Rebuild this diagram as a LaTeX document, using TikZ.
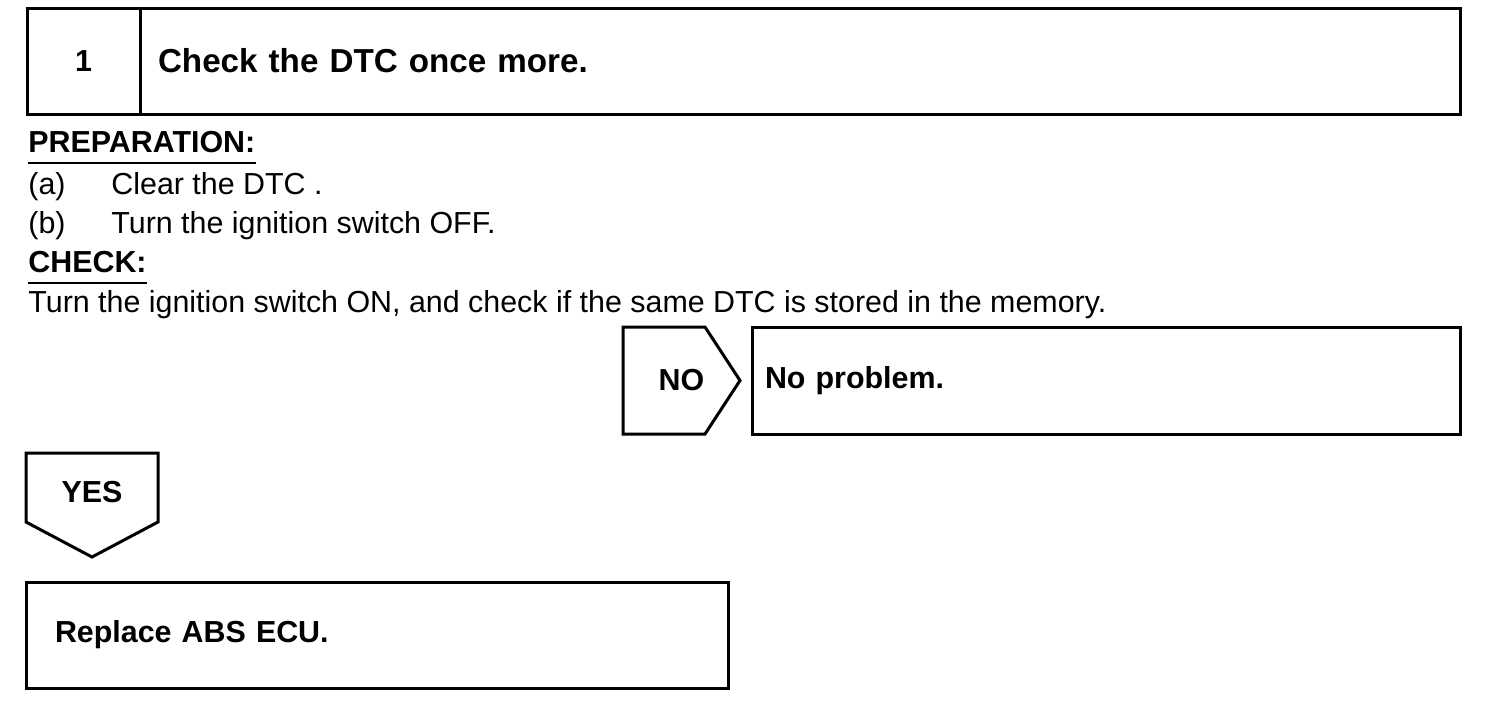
\documentclass[tikz,border=0pt]{standalone}
\usepackage{fontspec}
\setmainfont{Liberation Sans}
\usepackage{tikz}
\usetikzlibrary{positioning, calc}

\begin{document}
\begin{tikzpicture}[
          x=0.5pt, y=-0.5pt,
          box/.style={draw, line width=1.5pt, outer sep=0pt, minimum height=53pt,
                      font=\fontsize{15.2pt}{18pt}\selectfont\bfseries},
          tbox/.style={box, align=left},
          txt/.style={font=\fontsize{15.2pt}{18pt}\selectfont, inner sep=0pt, anchor=base west},
          hdr/.style={txt, font=\fontsize{15.2pt}{18pt}\selectfont\bfseries},
          uline/.style={line width=1pt},
          outline/.style={line width=1.5pt, line join=miter}
        ]
        \useasboundingbox (0,0) rectangle (1504,712);
        % Step header
        \node[box, minimum width=56.5pt] (num) at (83.5,61) {1};
        \node[tbox, right=0pt of num, minimum width=660pt, text width=642pt, inner xsep=9pt,
              font=\fontsize{16.6pt}{20pt}\selectfont\bfseries] (title) {Check the DTC once more.};
        % Preparation
        \node[hdr] (prep) at (28,152) {PREPARATION:};
        \draw[uline] ([yshift=-5.5pt]prep.base west) -- ([yshift=-5.5pt]prep.base east);
        \node[txt] (ia) at (28,194) {(a)};
        \node[txt] (clear) at (111,194) {Clear the DTC .};
        \node[txt] (ib) at (28,233) {(b)};
        \node[txt] (off) at (111,233) {Turn the ignition switch OFF.};
        % Check
        \node[hdr] (chk) at (28,272) {CHECK:};
        \draw[uline] ([yshift=-5.5pt]chk.base west) -- ([yshift=-5.5pt]chk.base east);
        \node[txt] (turnon) at (28,312) {Turn the ignition switch ON, and check if the same DTC is stored in the memory.};
        % NO branch
        \node[box, draw=none, minimum width=58.5pt, minimum height=53.5pt] (no) at (681.5,380.5) {NO};
        \draw[outline] (no.north west) -- ([xshift=-17.5pt]no.north east) -- (no.east)
              -- ([xshift=-17.5pt]no.south east) -- (no.south west) -- cycle;
        \node[tbox, right=6pt of no, minimum width=354pt, minimum height=53.5pt, text width=341pt,
              inner xsep=6.5pt] (noprob) {No problem.};
        % YES branch
        \node[box, draw=none, minimum width=66pt, minimum height=34.5pt, text height=15pt,
              text depth=0pt] (yes) at (92,487.5) {YES};
        \draw[outline] (yes.north west) -- (yes.north east) -- (yes.south east)
              -- ([yshift=-17.5pt]yes.south) -- (yes.south west) -- cycle;
        \node[tbox, below=30pt of yes.south west, anchor=north west, minimum width=351pt,
              text width=322pt, inner xsep=14.5pt] (ecu) {Replace ABS ECU.};
      \end{tikzpicture}
\end{document}
